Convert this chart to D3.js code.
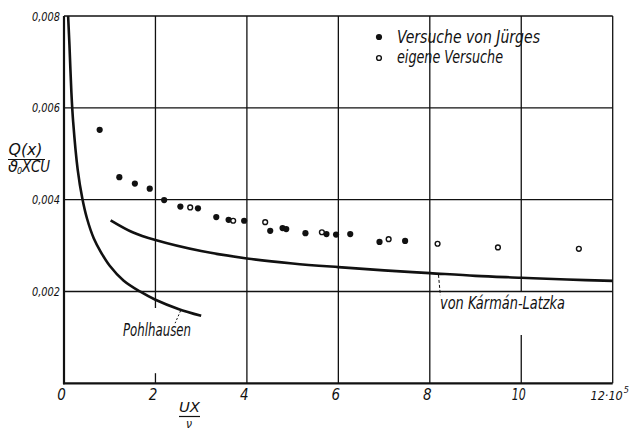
<!DOCTYPE html>
<html>
<head>
<meta charset="utf-8">
<script src="https://cdn.jsdelivr.net/npm/d3@7/dist/d3.min.js"></script>
<style>
  html, body { margin: 0; padding: 0; background: #fff; }
  svg { display: block; }
  text { font-family: "Liberation Sans Narrow", "DejaVu Sans Condensed", sans-serif; font-style: italic; fill: #111; }
</style>
</head>
<body>
<svg id="chart" width="631" height="429"></svg>
<script>
// Heat flow Q(x)/(θ0·X·C·U) against Reynolds number UX/ν (in units of 10^5)
const xTicks = [0, 2, 4, 6, 8, 10, 12];
const yTicks = [0.002, 0.004, 0.006, 0.008];

// Versuche von Jürges (filled dots)
const juergesX = [0.78, 1.21, 1.55, 1.875, 2.19, 2.545, 2.93, 3.33, 3.60, 3.94, 4.51, 4.78, 4.86, 5.28, 5.74, 5.95, 6.26, 6.90, 7.46];
const juergesY = [0.00552, 0.00449, 0.00435, 0.00424, 0.00399, 0.00385, 0.00381, 0.00362, 0.00356, 0.00354, 0.00332, 0.00338, 0.00336, 0.00327, 0.00325, 0.00324, 0.00325, 0.00308, 0.00310];

// eigene Versuche (open circles)
const eigeneX = [2.76, 3.70, 4.40, 5.64, 7.10, 8.17, 9.49, 11.26];
const eigeneY = [0.00383, 0.00354, 0.00351, 0.00329, 0.00314, 0.00304, 0.00296, 0.00293];

// Pohlhausen curve (laminar)
const pohlX = [0.09, 0.12, 0.16, 0.2, 0.3, 0.4, 0.5, 0.65, 0.8, 1.0, 1.3, 1.66, 2.0, 2.5, 3.0];
const pohlY = [0.0080, 0.00735, 0.00637, 0.0057, 0.00465, 0.00403, 0.0036, 0.00316, 0.00287, 0.00256, 0.00224, 0.0020, 0.00182, 0.00162, 0.00147];

// von Kármán-Latzka curve
const karmanX = [1.02, 1.5, 2, 3, 4, 5, 6, 7, 8, 9, 10, 11, 12];
const karmanY = [0.00355, 0.00329, 0.00312, 0.00288, 0.00272, 0.00261, 0.00253, 0.00246, 0.00240, 0.00234, 0.00230, 0.00226, 0.00223];

const svg = d3.select("#chart");
const ink = "#111";

const x = d3.scaleLinear().domain([0, 12]).range([64, 612.7]);
const y = d3.scaleLinear().domain([0, 0.008]).range([383.3, 16]);

// narrow lettering: squeeze a text to a given width
function fit(sel, w) {
  return sel.attr("textLength", w).attr("lengthAdjust", "spacingAndGlyphs");
}

const g = svg.append("g");

// horizontal grid lines
g.selectAll("line.hgrid").data(yTicks).join("line")
  .attr("x1", x(0)).attr("x2", x(12))
  .attr("y1", d => y(d)).attr("y2", d => y(d))
  .attr("stroke", ink).attr("stroke-width", 1.3);

// vertical grid lines; two of them are interrupted to leave room for curve labels
const vSegments = [
  { v: 2, from: 0.00164, to: 0.008 },
  { v: 2, from: 0, to: 0.00022 },
  { v: 4, from: 0, to: 0.008 },
  { v: 6, from: 0, to: 0.008 },
  { v: 8, from: 0, to: 0.008 },
  { v: 10, from: 0.002, to: 0.008 },
  { v: 10, from: 0, to: 0.00105 },
  { v: 12, from: 0, to: 0.008 }
];
g.selectAll("line.vgrid").data(vSegments).join("line")
  .attr("x1", d => x(d.v)).attr("x2", d => x(d.v))
  .attr("y1", d => y(d.from)).attr("y2", d => y(d.to))
  .attr("stroke", ink).attr("stroke-width", 1.3);

// heavy axis lines
g.append("line").attr("x1", x(0)).attr("x2", x(0)).attr("y1", y(0) + 1).attr("y2", y(0.008))
  .attr("stroke", ink).attr("stroke-width", 2.2);
g.append("line").attr("x1", x(0) - 1).attr("x2", x(12)).attr("y1", y(0)).attr("y2", y(0))
  .attr("stroke", ink).attr("stroke-width", 2.2);

// axes: tick labels only
const xAxis = d3.axisBottom(x).tickValues(xTicks).tickSize(0).tickPadding(0)
  .tickFormat(d => String(d));
const xa = svg.append("g").attr("transform", `translate(-3,${y(0) + 17})`).call(xAxis);
xa.select(".domain").remove();
xa.selectAll("text").attr("font-size", 15).attr("dy", 0).style("font-family", null)
  .each(function (d) { if (d === 10) fit(d3.select(this), 14); });

// the last tick carries the 10^5 factor
const last = xa.selectAll(".tick").filter(d => d === 12).select("text")
  .text(null).attr("text-anchor", "start").attr("x", -19.7).attr("font-size", 12.5);
last.append("tspan").text("12·10");
last.append("tspan").attr("dx", 1).attr("dy", -7).attr("font-size", 9).text("5");

const yAxis = d3.axisLeft(y).tickValues(yTicks).tickSize(0).tickPadding(0)
  .tickFormat(d => d3.format(".3f")(d).replace(".", ","));
const ya = svg.append("g").attr("transform", `translate(${x(0) - 4},0)`).call(yAxis);
ya.select(".domain").remove();
ya.selectAll("text").attr("font-size", 13).style("font-family", null)
  .each(function () { fit(d3.select(this), 28); });
svg.selectAll(".tick text").attr("fill", ink);

// curves
const line = d3.line().x(d => x(d[0])).y(d => y(d[1])).curve(d3.curveCatmullRom);
g.append("path").datum(d3.zip(pohlX, pohlY)).attr("d", line)
  .attr("fill", "none").attr("stroke", ink).attr("stroke-width", 2.6);
g.append("path").datum(d3.zip(karmanX, karmanY)).attr("d", line)
  .attr("fill", "none").attr("stroke", ink).attr("stroke-width", 2.6);

// measurements
g.selectAll("circle.j").data(d3.zip(juergesX, juergesY)).join("circle")
  .attr("cx", d => x(d[0])).attr("cy", d => y(d[1])).attr("r", 3.1)
  .attr("fill", ink);
g.selectAll("circle.e").data(d3.zip(eigeneX, eigeneY)).join("circle")
  .attr("cx", d => x(d[0])).attr("cy", d => y(d[1])).attr("r", 2.4)
  .attr("fill", "#fff").attr("stroke", ink).attr("stroke-width", 1.4);

// curve labels with leader lines
g.append("line").attr("x1", x(2.55)).attr("y1", y(0.00158)).attr("x2", x(2.43)).attr("y2", y(0.00131))
  .attr("stroke", ink).attr("stroke-width", 1).attr("stroke-dasharray", "2,2");
fit(svg.append("text").attr("x", 123).attr("y", 336).attr("font-size", 17).text("Pohlhausen"), 68);

g.append("line").attr("x1", x(8.19)).attr("y1", y(0.00236)).attr("x2", x(8.23)).attr("y2", y(0.00192))
  .attr("stroke", ink).attr("stroke-width", 1).attr("stroke-dasharray", "3,2");
fit(svg.append("text").attr("x", 440).attr("y", 309).attr("font-size", 17).text("von Kármán-Latzka"), 125);

// legend
svg.append("circle").attr("cx", 379).attr("cy", 37).attr("r", 3.1).attr("fill", ink);
fit(svg.append("text").attr("x", 397).attr("y", 43).attr("font-size", 17.5).text("Versuche von Jürges"), 143);
svg.append("circle").attr("cx", 379).attr("cy", 58).attr("r", 2.4)
  .attr("fill", "#fff").attr("stroke", ink).attr("stroke-width", 1.4);
fit(svg.append("text").attr("x", 397).attr("y", 63).attr("font-size", 17.5).text("eigene Versuche"), 106);

// axis titles as fractions
const yt = svg.append("g");
fit(yt.append("text").attr("x", 8.5).attr("y", 155).attr("font-size", 15).text("Q(x)"), 34);
yt.append("line").attr("x1", 8).attr("x2", 45).attr("y1", 159.5).attr("y2", 159.5).attr("stroke", ink).attr("stroke-width", 1.2);
fit(yt.append("text").attr("x", 8).attr("y", 172).attr("font-size", 15).text("ϑ"), 10);
yt.append("text").attr("x", 17).attr("y", 174).attr("font-size", 9).text("0");
fit(yt.append("text").attr("x", 22).attr("y", 172).attr("font-size", 15).text("XCU"), 28);

const xt = svg.append("g");
fit(xt.append("text").attr("x", 179).attr("y", 412).attr("font-size", 14).text("UX"), 21);
xt.append("line").attr("x1", 179).attr("x2", 200).attr("y1", 416.5).attr("y2", 416.5).attr("stroke", ink).attr("stroke-width", 1.2);
xt.append("text").attr("x", 189).attr("y", 427.5).attr("text-anchor", "middle").attr("font-size", 12).text("ν");
</script>
</body>
</html>
